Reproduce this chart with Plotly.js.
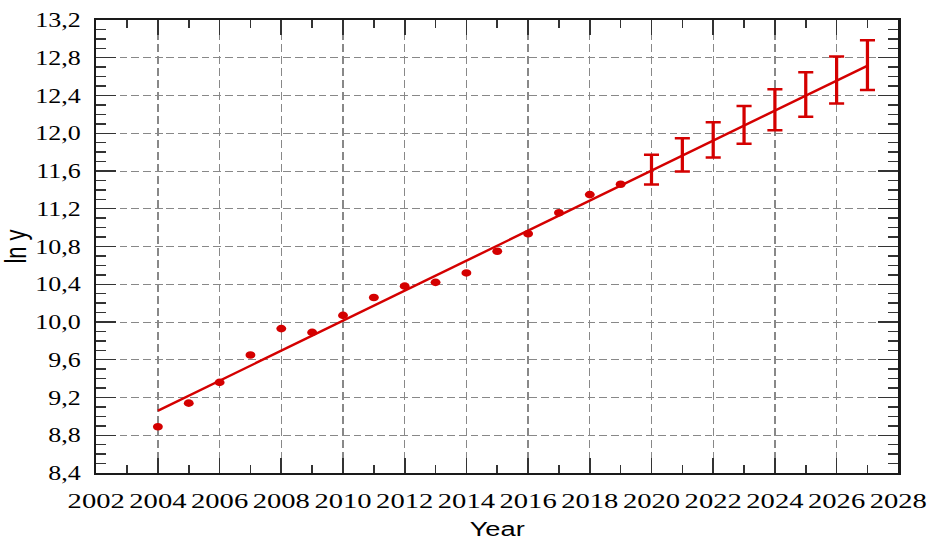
<!DOCTYPE html>
<html>
<head>
<meta charset="utf-8">
<script src="https://cdn.plot.ly/plotly-3.0.1.min.js"></script>
<style>
  html, body { margin: 0; padding: 0; background: #fff; overflow: hidden; }
  #wrap { width: 927px; height: 541px; overflow: hidden; }
  #plot { width: 713.08px; height: 541px; transform: scaleX(1.3); transform-origin: 0 0; }
</style>
</head>
<body>
<div id="wrap"><div id="plot"></div></div>
<script>
// Observed data (ln y)
const years = [2004, 2005, 2006, 2007, 2008, 2009, 2010, 2011, 2012, 2013, 2014, 2015, 2016, 2017, 2018, 2019];
const lnY = [8.89, 9.14, 9.36, 9.65, 9.93, 9.89, 10.07, 10.26, 10.38, 10.42, 10.52, 10.75, 10.935, 11.157, 11.35, 11.46];

// Trend line end points
const fitYears = [2004, 2027];
const fitValues = [9.06, 12.716];

// Forecast with intervals
const forecastYears = [2020, 2021, 2022, 2023, 2024, 2025, 2026, 2027];
const forecastCenter = [11.614, 11.772, 11.93, 12.088, 12.249, 12.41, 12.565, 12.716];
const forecastUpper = [11.772, 11.948, 12.116, 12.288, 12.467, 12.646, 12.814, 12.986];
const forecastLower = [11.456, 11.596, 11.743, 11.888, 12.032, 12.175, 12.316, 12.459];

const RED = '#d40000';

const errPlus = forecastUpper.map((u, i) => u - forecastCenter[i]);
const errMinus = forecastCenter.map((c, i) => c - forecastLower[i]);

const traces = [
  {
    x: fitYears, y: fitValues, type: 'scatter', mode: 'lines',
    line: { color: RED, width: 2.3 }, hoverinfo: 'skip'
  },
  {
    x: years, y: lnY, type: 'scatter', mode: 'markers',
    marker: { color: RED, size: 7.6, line: { width: 0 } }
  },
  {
    x: forecastYears, y: forecastCenter, type: 'scatter', mode: 'markers',
    marker: { color: 'rgba(0,0,0,0)', size: 1 },
    error_y: { type: 'data', symmetric: false, array: errPlus, arrayminus: errMinus,
               color: RED, thickness: 2.5, width: 5.8, visible: true }
  }
];

const SERIF = 'Liberation Serif';
const SANS = 'Liberation Sans';
const axisCommon = {
  showline: true, linecolor: '#1a1a1a', linewidth: 1.8, mirror: 'allticks',
  ticks: 'inside', tickcolor: '#333',
  showgrid: true, gridcolor: '#888888', gridwidth: 1,
  zeroline: false
};

const layout = {
  width: 713.08, height: 541,
  margin: { l: 73.85, r: 21.9, t: 20, b: 68, pad: 0 },
  paper_bgcolor: '#fff', plot_bgcolor: '#fff',
  showlegend: false,
  separators: ',.',
  font: { family: SERIF, size: 20, color: '#000' },
  xaxis: Object.assign({}, axisCommon, {
    range: [2002, 2028], tick0: 2002, dtick: 2, tickformat: 'd',
    ticklen: 15, tickwidth: 1.3,
    tickfont: { family: SERIF, size: 22, color: '#000' },
    griddash: '8px,4px',
    ticklabelstandoff: 7,
    minor: { dtick: 1, tick0: 2002, ticks: 'inside', ticklen: 8, tickwidth: 1.2, tickcolor: '#333', showgrid: false },
    title: { text: 'Year', font: { family: SANS, size: 21, color: '#000' }, standoff: 9 }
  }),
  yaxis: Object.assign({}, axisCommon, {
    range: [8.4, 13.2], tick0: 8.4, dtick: 0.4, tickformat: '.1f',
    ticklen: 15.4, tickwidth: 1.4,
    tickfont: { family: SERIF, size: 20, color: '#000' },
    griddash: '6px,3px',
    ticklabelstandoff: 6,
    minor: { dtick: 0.1, tick0: 8.4, ticks: 'inside', ticklen: 7.7, tickwidth: 1.4, tickcolor: '#333', showgrid: false },
    title: { text: 'ln y', font: { family: SANS, size: 22, color: '#000' }, standoff: 7 }
  })
};

Plotly.newPlot('plot', traces, layout, { staticPlot: true, displayModeBar: false });
</script>
</body>
</html>
